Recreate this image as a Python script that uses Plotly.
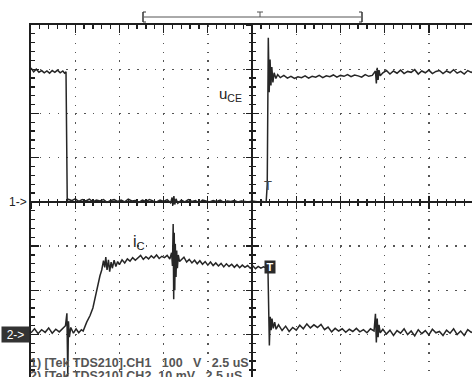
import numpy as np
import plotly.graph_objects as go

# ---- scope settings ----
US_PER_DIV = 2.5
CH1_V_PER_DIV = 100.0
CH2_MV_PER_DIV = 10.0
CH2_GROUND_DIV = -3.0

# ---- channel 1: u_CE (V) ----
t_ch1 = [
    -12.50, -12.35, -12.20, -12.05, -11.90, -11.75, -11.60, -11.45, -11.30, -11.15,
    -11.00, -10.85, -10.70, -10.60, -10.52,
    -10.48, -10.45,
    -10.40, -10.20, -10.00, -9.80, -9.60, -9.40, -9.20, -9.00, -8.80, -8.60,
    -8.40, -8.20, -8.00, -7.80, -7.60, -7.40, -7.20, -7.00, -6.80, -6.60,
    -6.40, -6.20, -6.00, -5.80, -5.60, -5.40, -5.20, -5.00, -4.80, -4.60,
    -4.52, -4.47, -4.42, -4.37, -4.30,
    -4.20,
    -4.00, -3.80, -3.60, -3.40, -3.20, -3.00, -2.80, -2.60, -2.40, -2.20,
    -2.00, -1.80, -1.60, -1.40, -1.20, -1.00, -0.80, -0.60, -0.40, -0.20,
    0.00, 0.20, 0.40, 0.60, 0.80,
    0.86, 0.92, 0.97, 1.02, 1.07, 1.12, 1.18, 1.25, 1.35, 1.45,
    1.60, 1.80, 2.00, 2.20, 2.40, 2.60, 2.80, 3.00, 3.20, 3.40,
    3.60, 3.80, 4.00, 4.20, 4.40, 4.60, 4.80, 5.00, 5.20, 5.40,
    5.60, 5.80, 6.00, 6.20, 6.40, 6.60, 6.80,
    6.98, 7.03, 7.08, 7.13, 7.18, 7.25,
    7.40, 7.60, 7.80, 8.00, 8.20, 8.40, 8.60, 8.80, 9.00, 9.20,
    9.40, 9.60, 9.80, 10.00, 10.20, 10.40, 10.60, 10.80, 11.00, 11.20,
    11.40, 11.60, 11.80, 12.00, 12.20, 12.40, 12.45,
]
u_ce = [
    303, 294, 300, 293, 297, 292, 296, 291, 297, 293,
    298, 292, 296, 291, 294,
    160, 2,
    6, 3, 7, 1, 5, 2, 6, 0, 4, 2,
    5, -1, 3, 5, 1, 4, 0, 6, 2, 3,
    -1, 4, 1, 5, 2, 0, 4, 1, 5, -2,
    10, -8, 13, -6, 7,
    -3,
    4, 0, 5, 1, 3, -2, 4, 2, 0, 3,
    1, 4, -1, 2, 1, 3, 0, 2, 1, 0,
    2, 1, 0, 1, 0,
    40, 371, 248, 322, 263, 305, 270, 292, 279, 288,
    281, 286, 280, 284, 279, 283, 281, 285, 280, 284,
    282, 286, 281, 285, 283, 287, 282, 286, 284, 288,
    283, 287, 285, 282, 288, 284, 286,
    296, 268, 303, 276, 298, 285,
    292, 297, 289, 296, 291, 298, 290, 295, 293, 299,
    289, 296, 292, 298, 290, 295, 297, 290, 296, 292,
    299, 291, 295, 289, 297, 293, 294,
]

# ---- channel 2: i_C sense voltage (mV) ----
t_ch2 = [
    -12.50, -12.30, -12.10, -11.90, -11.70, -11.50, -11.30, -11.10, -10.90, -10.70,
    -10.55, -10.47, -10.42, -10.38, -10.33, -10.25,
    -10.10, -9.95, -9.80, -9.65,
    -9.55, -9.35, -9.16, -9.00, -8.90, -8.77, -8.68, -8.60, -8.50, -8.40,
    -8.33, -8.27, -8.20, -8.12, -8.05, -7.97, -7.90, -7.80, -7.70, -7.60, -7.50,
    -7.35, -7.20, -7.05, -6.90, -6.75, -6.60, -6.45, -6.30, -6.15, -6.00,
    -5.85, -5.70, -5.55, -5.40, -5.25, -5.10, -4.95, -4.80, -4.65,
    -4.55, -4.50, -4.46, -4.43, -4.40, -4.37, -4.34, -4.30, -4.26, -4.22, -4.17, -4.10,
    -4.00, -3.85, -3.70, -3.55, -3.40, -3.25, -3.10, -2.95, -2.80, -2.65,
    -2.50, -2.35, -2.20, -2.05, -1.90, -1.75, -1.60, -1.45, -1.30, -1.15,
    -1.00, -0.85, -0.70, -0.55, -0.40, -0.25, -0.10, 0.05, 0.20, 0.35,
    0.50, 0.65, 0.80,
    0.90, 0.98, 1.03, 1.08, 1.13, 1.20, 1.28, 1.36,
    1.50, 1.70, 1.90, 2.10, 2.30, 2.50, 2.70, 2.90, 3.10, 3.30,
    3.50, 3.70, 3.90, 4.10, 4.30, 4.50, 4.70, 4.90, 5.10, 5.30,
    5.50, 5.70, 5.90, 6.10, 6.30, 6.50, 6.70, 6.90,
    6.98, 7.03, 7.08, 7.13, 7.18, 7.25,
    7.40, 7.60, 7.80, 8.00, 8.20, 8.40, 8.60, 8.80, 9.00, 9.20,
    9.40, 9.60, 9.80, 10.00, 10.20, 10.40, 10.60, 10.80, 11.00, 11.20,
    11.40, 11.60, 11.80, 12.00, 12.20, 12.40, 12.45,
]
i_c = [
    0.4, 1.3, 0.2, 1.1, 0.5, 1.5, 0.3, 1.2, 0.6, 1.4,
    2.0, 4.8, -9.5, 3.0, -0.6, 1.6,
    0.3, 1.3, 0.4, 1.1,
    0.8, 2.8, 4.3, 6.0, 7.9, 10.4, 11.5, 13.3, 14.6, 16.7,
    15.2, 17.5, 14.6, 16.9, 14.2, 16.4, 15.0, 16.8, 15.4, 16.5, 15.8,
    16.9, 16.2, 17.1, 16.6, 17.4, 16.8, 17.3, 17.9, 17.0, 17.6,
    17.1, 17.8, 17.3, 18.0, 17.2, 17.7, 17.4, 17.9, 17.1,
    18.5, 15.5, 25.0, 8.0, 23.0, 10.0, 20.5, 13.0, 19.0, 15.0, 18.0, 16.5,
    16.9, 17.5, 16.4, 17.0, 16.2, 16.8, 16.0, 16.7, 15.9, 16.5,
    15.7, 16.4, 15.6, 16.2, 15.5, 16.1, 15.3, 16.0, 15.4, 15.9,
    15.2, 15.8, 15.1, 15.7, 15.2, 15.6, 15.0, 15.5, 14.9, 15.4,
    15.0, 15.3, 15.1,
    15.0, -2.5, 4.0, 1.0, 3.6, 1.4, 2.8, 1.2,
    2.2, 0.9, 1.9, 0.7, 1.6, 1.0, 2.1, 1.3, 2.4, 1.5,
    2.2, 1.6, 2.3, 1.1, 1.7, 0.6, 1.4, 0.8, 1.3, 0.5,
    1.2, 0.7, 1.4, 0.6, 1.1, 0.4, 1.3, 0.8,
    4.7, -1.8, 3.6, -0.6, 2.2, 0.4,
    1.2, 0.1, 1.0, -0.2, 0.9, 0.3, 1.3, 0.0, 0.8, -0.3,
    1.1, 0.2, 0.9, -0.1, 1.2, 0.4, 0.7, -0.2, 1.0, 0.3,
    1.3, 0.0, 0.8, -0.2, 1.1, 0.5, 0.6,
]

assert len(t_ch1) == len(u_ce), (len(t_ch1), len(u_ce))
assert len(t_ch2) == len(i_c), (len(t_ch2), len(i_c))

# screen divisions
y1 = np.array(u_ce) / CH1_V_PER_DIV
y2 = np.array(i_c) / CH2_MV_PER_DIV + CH2_GROUND_DIV

X_RANGE = [-12.5, 12.44]
Y_RANGE = [-3.96, 4.0]
INK = "#1e1e1e"
DOTS = "1.5px,7.34px"
FONT = "Liberation Sans, Arial, sans-serif"

fig = go.Figure()
fig.add_trace(go.Scatter(x=t_ch1, y=y1, mode="lines",
                         line=dict(color="#262626", width=1.5), showlegend=False,
                         hoverinfo="skip"))
fig.add_trace(go.Scatter(x=t_ch2, y=y2, mode="lines",
                         line=dict(color="#262626", width=1.5), showlegend=False,
                         hoverinfo="skip"))

x_center_frac = -Y_RANGE[0] / (Y_RANGE[1] - Y_RANGE[0])
y_center_frac = -X_RANGE[0] / (X_RANGE[1] - X_RANGE[0])

common = dict(showticklabels=False, fixedrange=True)

fig.update_layout(
    width=472, height=377,
    margin=dict(l=31, r=0, t=25, b=0, pad=0),
    paper_bgcolor="white", plot_bgcolor="white",
    showlegend=False, hovermode=False,
    xaxis=dict(range=X_RANGE, side="top", showline=True, linecolor=INK, linewidth=2,
               ticks="inside", ticklen=8, tickwidth=1.3, tickcolor=INK,
               tick0=0, dtick=US_PER_DIV,
               minor=dict(ticks="inside", ticklen=4, tickwidth=1.3, tickcolor=INK,
                          tick0=0, dtick=US_PER_DIV / 5, showgrid=False),
               showgrid=True, gridcolor="#555555", gridwidth=1.4, griddash=DOTS,
               zeroline=True, zerolinecolor=INK, zerolinewidth=2, **common),
    yaxis=dict(range=Y_RANGE, side="left", showline=True, linecolor=INK, linewidth=2,
               ticks="inside", ticklen=8, tickwidth=1.3, tickcolor=INK,
               tick0=0, dtick=1,
               minor=dict(ticks="inside", ticklen=4, tickwidth=1.3, tickcolor=INK,
                          tick0=0, dtick=0.2, showgrid=False),
               showgrid=True, gridcolor="#555555", gridwidth=1.4, griddash=DOTS,
               zeroline=True, zerolinecolor=INK, zerolinewidth=2, **common),
)

# crossing ticks on the centre graticule lines
for name, tk in (("xaxis2", "outside"), ("xaxis3", "inside")):
    fig.update_layout(**{name: dict(overlaying="x", anchor="free", position=x_center_frac,
                                    side="bottom", range=X_RANGE, showline=False,
                                    showgrid=False, zeroline=False,
                                    ticks=tk, ticklen=6, tickwidth=1.3, tickcolor=INK,
                                    tick0=0, dtick=US_PER_DIV,
                                    minor=dict(ticks=tk, ticklen=3, tickwidth=1.3,
                                               tickcolor=INK, tick0=0, dtick=US_PER_DIV / 5,
                                               showgrid=False),
                                    **common)})
for name, tk in (("yaxis2", "outside"), ("yaxis3", "inside")):
    fig.update_layout(**{name: dict(overlaying="y", anchor="free", position=y_center_frac,
                                    side="left", range=Y_RANGE, showline=False,
                                    showgrid=False, zeroline=False,
                                    ticks=tk, ticklen=6, tickwidth=1.3, tickcolor=INK,
                                    tick0=0, dtick=1,
                                    minor=dict(ticks=tk, ticklen=3, tickwidth=1.3,
                                               tickcolor=INK, tick0=0, dtick=0.2,
                                               showgrid=False),
                                    **common)})
# invisible helper traces so the overlay axes are drawn
fig.add_trace(go.Scatter(x=[0], y=[0], xaxis="x2", yaxis="y2", mode="markers",
                         marker=dict(opacity=0), hoverinfo="skip", showlegend=False))
fig.add_trace(go.Scatter(x=[0], y=[0], xaxis="x3", yaxis="y3", mode="markers",
                         marker=dict(opacity=0), hoverinfo="skip", showlegend=False))

# ---- annotations ----
ann = []
ann.append(dict(xref="paper", yref="y", x=0, y=0, xanchor="right", yanchor="middle",
                xshift=-2, text="1->", showarrow=False,
                font=dict(family=FONT, size=12, color="#222")))
ann.append(dict(xref="paper", yref="y", x=0, y=CH2_GROUND_DIV, xanchor="right",
                yanchor="middle", xshift=-1, text="2->", showarrow=False,
                bgcolor="#333333", width=27, height=15, borderpad=0,
                font=dict(family=FONT, size=12, color="white")))
ann.append(dict(xref="x", yref="y", x=1.02, y=-1.47, text="<b>T</b>", showarrow=False,
                bgcolor="#2a2a2a", width=10, height=12, borderpad=0,
                font=dict(family=FONT, size=11, color="white")))
ann.append(dict(xref="x", yref="y", x=0.92, y=0.38, text="T", showarrow=False,
                font=dict(family=FONT, size=13, color="#444444")))
ann.append(dict(xref="x", yref="y", x=-2.0, y=2.42, xanchor="left", yanchor="middle",
                text="u<sub>CE</sub>", showarrow=False,
                font=dict(family=FONT, size=15, color="#222")))
ann.append(dict(xref="x", yref="y", x=-6.85, y=-0.92, xanchor="left", yanchor="middle",
                text="i<sub>C</sub>", showarrow=False,
                font=dict(family=FONT, size=16, color="#222")))
ann.append(dict(xref="paper", yref="paper", x=-0.006, y=0.04, xanchor="left",
                yanchor="middle",
                text="<b>1) [Tek TDS210].CH1\u00a0\u00a0 100\u00a0\u00a0 V\u00a0\u00a0 2.5 uS</b>",
                showarrow=False, font=dict(family=FONT, size=12.5, color="#555")))
ann.append(dict(xref="paper", yref="paper", x=-0.006, y=0.004, xanchor="left",
                yanchor="middle",
                text="<b>2) [Tek TDS210].CH2, 10 mV\u00a0\u00a0 2.5 uS</b>",
                showarrow=False, font=dict(family=FONT, size=12.5, color="#555")))
fig.update_layout(annotations=ann)

# ---- record-length indicator above the graticule ----
def px(xp):
    return (xp - 31) / 441.0

def py(yp):
    return (377 - yp) / 352.0

lc = "#333"
shapes = [
    dict(type="line", xref="paper", yref="paper", x0=px(144), x1=px(361), y0=py(17), y1=py(17),
         line=dict(color="#555", width=1)),
    dict(type="line", xref="paper", yref="paper", x0=px(143), x1=px(143), y0=py(12), y1=py(22),
         line=dict(color=lc, width=1.5)),
    dict(type="line", xref="paper", yref="paper", x0=px(143), x1=px(146), y0=py(12), y1=py(12),
         line=dict(color=lc, width=1)),
    dict(type="line", xref="paper", yref="paper", x0=px(143), x1=px(146), y0=py(22), y1=py(22),
         line=dict(color=lc, width=1)),
    dict(type="line", xref="paper", yref="paper", x0=px(362), x1=px(362), y0=py(12), y1=py(22),
         line=dict(color=lc, width=1.5)),
    dict(type="line", xref="paper", yref="paper", x0=px(359), x1=px(362), y0=py(12), y1=py(12),
         line=dict(color=lc, width=1)),
    dict(type="line", xref="paper", yref="paper", x0=px(359), x1=px(362), y0=py(22), y1=py(22),
         line=dict(color=lc, width=1)),
    dict(type="line", xref="paper", yref="paper", x0=px(260), x1=px(260), y0=py(12), y1=py(17),
         line=dict(color="#555", width=1)),
    dict(type="line", xref="paper", yref="paper", x0=px(257), x1=px(263), y0=py(12), y1=py(12),
         line=dict(color="#555", width=1)),
]
fig.update_layout(shapes=shapes)

fig.write_html("out.html",
               config={"displayModeBar": False, "staticPlot": True},
               post_script="document.body.style.margin='0';document.body.style.padding='0';"
                           "document.body.style.overflow='hidden';")
